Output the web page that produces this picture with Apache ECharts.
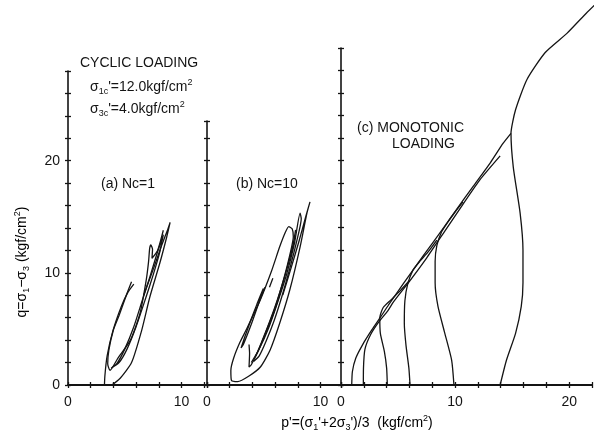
<!DOCTYPE html>
<html>
<head>
<meta charset="utf-8">
<script src="https://cdn.jsdelivr.net/npm/echarts/dist/echarts.min.js"></script>
<style>html,body{margin:0;background:#fff}#chart{width:607px;height:435px}</style>
</head>
<body>
<div id="chart"></div>
<script>
// tick labels shown on the axes
const qTickLabels = [0, 10, 20]
const pTickLabelsA = [0, 10]
const pTickLabelsB = [0, 10]
const pTickLabelsC = [0, 10, 20]

// (a) Nc=1 stress paths, [p', q]
const cyclicA1 = [[6.67,8.0],[7.4,10.0],[8.2,12.3],[8.8,13.9],[9.0,14.5],[8.7,13.2],[8.1,10.9],[7.2,7.8],[6.5,4.9],[5.6,2.0],[4.6,0.6],[3.6,-0.2],[3.2,-0.4],[3.25,0.8],[3.45,2.6],[3.95,4.8],[4.7,7.0],[5.3,8.3],[5.8,9.0]]
const cyclicA2 = [[5.6,9.2],[5.1,7.9],[4.5,6.2],[4.0,4.9],[3.6,3.1],[3.5,1.9],[3.7,1.3],[4.4,2.4],[5.5,4.0],[6.35,6.4],[6.9,9.4],[7.1,11.0],[7.2,12.2],[7.3,12.5],[7.45,12.1],[7.4,11.3],[7.9,12.0],[8.4,13.8]]
const cyclicA3 = [[3.8,1.5],[4.3,1.9],[5.0,3.2],[5.8,5.2],[6.5,7.4],[7.2,9.6],[7.9,11.9],[8.4,13.4],[8.1,11.9],[7.5,9.8],[6.8,7.6],[6.0,5.2],[5.2,3.2],[4.5,2.0],[3.8,1.5]]

// (b) Nc=10 stress paths
const cyclicB1 = [[6.67,8.0],[7.4,10.4],[8.1,12.8],[8.7,15.0],[9.07,16.3],[8.8,15.3],[8.2,12.3],[7.3,8.5],[6.4,5.5],[5.55,3.1],[4.7,1.6],[3.7,0.8],[2.7,0.3],[2.16,0.4],[2.1,1.3],[2.35,2.4],[2.9,3.8],[3.5,5.0],[4.7,7.6],[5.7,10.2],[6.4,12.3],[6.9,13.6],[7.2,14.1],[7.5,13.9],[7.6,13.2],[7.3,11.6],[6.8,9.6],[6.1,7.2],[5.3,5.0],[4.5,3.0],[3.9,1.8],[3.7,1.6],[3.75,2.8],[3.7,3.6]]
const cyclicB2 = [[4.96,8.6],[4.4,7.2],[3.8,5.6],[3.3,4.2],[3.0,3.3],[3.2,3.6],[3.9,5.4],[4.6,7.4],[5.1,8.7]]
const cyclicB3 = [[3.9,2.0],[4.6,3.2],[5.4,5.0],[6.2,7.3],[7.0,9.8],[7.7,12.6],[8.2,15.3],[8.3,14.8],[7.9,12.8],[7.3,10.4],[6.6,7.9],[5.9,5.7],[5.2,3.9],[4.6,2.6],[4.1,2.1]]
const cyclicB4 = [[4.3,2.6],[5.0,4.2],[5.8,6.2],[6.5,8.4],[7.1,10.6],[7.6,12.6],[7.8,13.8],[7.6,12.4],[7.0,10.2],[6.2,7.6],[5.5,5.6],[4.8,3.8],[4.3,2.6]]
const cyclicB5 = [[5.8,9.5],[5.5,8.7]]

// (c) monotonic loading, one path per initial p'
const mono1 = [[0.94,0],[1.0,1.2],[1.3,2.4],[1.9,3.6],[2.7,4.9],[3.5,6.1],[4.15,7.1],[5.45,9.0],[7.2,11.5],[9.0,14.0],[10.1,15.6],[11.6,17.7],[13.1,19.8],[14.2,21.5],[14.9,22.4]]
const mono2 = [[1.96,0],[1.97,1.5],[2.1,3.2],[2.6,4.5],[3.3,5.6],[4.1,6.6],[4.6,7.4],[6.05,9.3],[7.5,11.3],[9.1,13.7],[10.7,16.1],[12.2,18.3],[13.95,20.4]]
const mono4 = [[4.06,0],[4.0,1.5],[3.8,3.0],[3.45,4.6],[3.4,6.0],[3.7,6.9],[4.4,7.6],[5.2,8.4],[6.0,9.3]]
const mono6 = [[6.05,0],[5.95,1.5],[5.7,3.5],[5.55,5.5],[5.6,7.5],[5.85,9.0],[6.3,10.2],[6.9,11.0],[7.6,11.8],[8.4,12.9]]
const mono10 = [[9.9,0],[9.7,2.2],[9.1,4.6],[8.5,7.0],[8.25,9.1],[8.25,11.0],[8.4,12.4],[8.8,13.6],[9.3,14.4],[10.0,15.4],[10.7,16.3]]
const mono14 = [[13.95,0],[14.5,2.2],[15.3,4.6],[15.8,7.0],[15.95,9.1],[15.95,12.0],[15.7,15.3],[15.1,19.4],[14.9,22.4],[15.3,24.5],[16.3,27.2],[17.9,29.6],[19.8,31.3],[21.5,33.1],[22.5,34.1]]

const ink = '#141414'
const font = '"Liberation Sans", Arial, sans-serif'
let chart = echarts.init(document.querySelector('#chart'))

function pAxis(grid, max, labels, inside) {
    return {
        type: 'value', gridIndex: grid, min: 0, max: max, interval: 2, position: 'bottom',
        splitLine: {show: false},
        axisLine: {show: !inside, onZero: false, lineStyle: {color: ink, width: 2}},
        axisTick: {show: true, inside: inside, length: 3, lineStyle: {color: ink, width: 1.3}},
        axisLabel: {
            show: !inside, margin: 10, color: ink, fontSize: 14, fontFamily: font,
            formatter: v => labels.includes(v) ? String(v) : ''
        }
    }
}

function qAxis(grid, max, labels, inside) {
    return {
        type: 'value', gridIndex: grid, min: 0, max: max, interval: 2, position: 'left',
        splitLine: {show: false},
        axisLine: {show: !inside, onZero: false, lineStyle: {color: ink, width: 1.6}},
        axisTick: {show: true, inside: inside, length: 3, lineStyle: {color: ink, width: 1.3}},
        axisLabel: {
            show: !inside && labels.length > 0, margin: 8, color: ink, fontSize: 14, fontFamily: font,
            formatter: v => labels.includes(v) ? String(v) : ''
        }
    }
}

function path(data, panel, clip) {
    return {
        type: 'line', data: data, xAxisIndex: panel * 2, yAxisIndex: panel * 2,
        symbol: 'none', smooth: 0.2, clip: clip !== false, silent: true,
        lineStyle: {color: ink, width: 1.3}
    }
}

const rich = {
    t: {fontSize: 14, fontFamily: font, color: ink, lineHeight: 18},
    s: {fontSize: 9, fontFamily: font, color: ink, lineHeight: 9, verticalAlign: 'bottom'},
    p: {fontSize: 9, fontFamily: font, color: ink, lineHeight: 9, verticalAlign: 'top'}
}

function label(x, y, text, opts) {
    return Object.assign({
        type: 'text', x: x, y: y,
        style: {text: text, rich: rich, fill: ink, font: '14px ' + font, align: 'left', verticalAlign: 'middle'}
    }, opts || {})
}

chart.setOption({
    animation: false,
    backgroundColor: '#fff',
    grid: [
        {left: 68, width: 139, top: 71, height: 314},
        {left: 207, width: 134, top: 121, height: 264},
        {left: 341, width: 251, top: 48, height: 337}
    ],
    xAxis: [
        pAxis(0, 12.25, pTickLabelsA, false), pAxis(0, 12.25, pTickLabelsA, true),
        pAxis(1, 11.8, pTickLabelsB, false), pAxis(1, 11.8, pTickLabelsB, true),
        pAxis(2, 22, pTickLabelsC, false), pAxis(2, 22, pTickLabelsC, true)
    ],
    yAxis: [
        qAxis(0, 28, qTickLabels, false), qAxis(0, 28, qTickLabels, true),
        qAxis(1, 23.5, [], false), qAxis(1, 23.5, [], true),
        qAxis(2, 30, [], false), qAxis(2, 30, [], true)
    ],
    series: [
        path(cyclicA1, 0), path(cyclicA2, 0), path(cyclicA3, 0),
        path(cyclicB1, 1), path(cyclicB2, 1), path(cyclicB3, 1), path(cyclicB4, 1), path(cyclicB5, 1),
        path(mono1, 2), path(mono2, 2), path(mono4, 2), path(mono6, 2), path(mono10, 2),
        path(mono14, 2, false)
    ],
    graphic: [
        label(80, 63, '{t|CYCLIC LOADING}'),
        label(90, 87, "{t|σ}{s|1c}{t|'=12.0kgf/cm}{p|2}"),
        label(90, 109, "{t|σ}{s|3c}{t|'=4.0kgf/cm}{p|2}"),
        label(101, 184, '{t|(a) Nc=1}'),
        label(236, 184, '{t|(b) Nc=10}'),
        label(357, 128, '{t|(c) MONOTONIC}'),
        label(392, 144, '{t|LOADING}'),
        label(357, 423, '', {
            style: {text: "{t|p'=(σ}{s|1}{t|'+2σ}{s|3}{t|')/3  (kgf/cm}{p|2}{t|)}", rich: rich, align: 'center', verticalAlign: 'middle'}
        }),
        label(22, 262, '', {
            rotation: Math.PI / 2,
            style: {text: '{t|q=σ}{s|1}{t|−σ}{s|3}{t| (kgf/cm}{p|2}{t|)}', rich: rich, align: 'center', verticalAlign: 'middle'}
        })
    ]
})
</script>
</body>
</html>
